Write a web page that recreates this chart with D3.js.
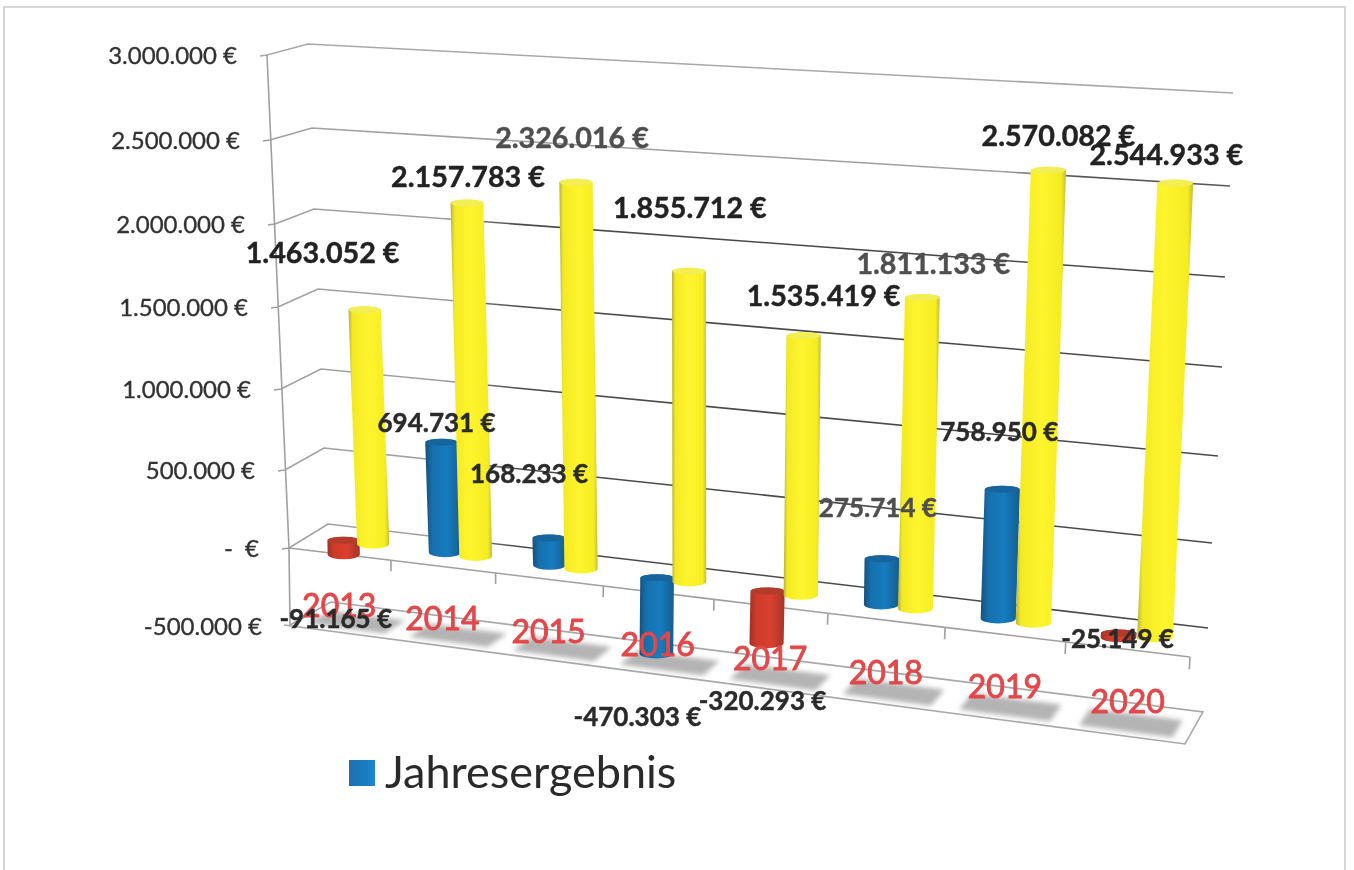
<!DOCTYPE html>
<html>
<head>
<meta charset="utf-8">
<title>Jahresergebnis</title>
<style type="text/css">
html, body { margin: 0; padding: 0; background: #fff; overflow: hidden; }
text { font-family: Lato, "Open Sans", sans-serif; white-space: pre; }
.tick-label { font-size: 24px; fill: #333; stroke: #333; stroke-width: 0.35; text-anchor: end; }
.data-label { font-weight: 700; text-anchor: middle; stroke-width: 0.45; }
.cat-label { font-size: 32px; fill: #e2474a; stroke: #e2474a; stroke-width: 0.9; text-anchor: middle; }
</style>
<script src="https://cdn.jsdelivr.net/npm/d3@7"></script>
</head>
<body>
<script>
// values
var categories = ["2013", "2014", "2015", "2016", "2017", "2018", "2019", "2020"];
var jahresergebnis = [-91165, 694731, 168233, -470303, -320293, 275714, 758950, -25149];
var yellowSeries = [1463052, 2157783, 2326016, 1855712, 1535419, 1811133, 2570082, 2544933];
var axisTicks = [-500000, 0, 500000, 1000000, 1500000, 2000000, 2500000, 3000000];
var legendLabel = "Jahresergebnis";
var redYears = ["2013", "2017", "2020"];  // 2016 is negative too but stays blue in the original

// hand-dragged labels in the original, offset from the end of the bar
var blueLabelNudge = [[-8, 65], [-5, -19], [-20, -64], [-19, 63], [-4, 58], [-4, -51], [-3, -57], [-1, 2]];
var yellowLabelNudge = [[-42, -57], [1, -26], [-4, -44], [1, -63], [20, -40], [11, -33], [10, -34], [-9, -28]];
var fadedYellow = ["2015", "2018"];
var fadedBlue = ["2018"];

var width = 1354, height = 870;
var svg = d3.select("body").append("svg").attr("width", width).attr("height", height);
var defs = svg.append("defs");

// the four upright edges of the 3d box: value -> [x, y]
var frontLeft = d3.scaleLinear().domain(axisTicks).range([[290, 625], [289, 548], [285, 470], [281, 389], [278, 307], [275, 224], [270, 140], [267, 55]]);
var backLeft = d3.scaleLinear().domain(axisTicks).range([[331, 602], [328, 524], [324, 448], [321, 369], [318, 289], [314, 209], [312, 128], [308, 44]]);
var frontRight = d3.scaleLinear().domain(axisTicks).range([[1185, 744], [1190, 657], [1194, 569], [1199, 479], [1203, 388], [1208, 296], [1212, 203], [1216, 108]]);
var backRight = d3.scaleLinear().domain(axisTicks).range([[1203, 712], [1208, 628], [1212, 543], [1218, 456], [1222, 367], [1225, 277], [1230, 186], [1233, 93]]);

var k = 1.12;
function perspective(t) { return t / (t + k * (1 - t)); }
var catScale = d3.scaleLinear().domain([0, categories.length]).range([0, 1]);
var radius = d3.scaleLinear().domain([0, 1]).range([16, 18]);
var labelOffset = d3.scaleLinear().domain([0, categories.length - 1]).range([0.29, 0.46]);

function mix(a, b, t) { return [a[0] + (b[0] - a[0]) * t, a[1] + (b[1] - a[1]) * t]; }

function project(i, v, depth) {
  var p = perspective(catScale(i));
  var left = mix(frontLeft(v), backLeft(v), depth);
  var right = mix(frontRight(v), backRight(v), depth);
  return mix(left, right, p);
}

var line = d3.line();
var euro = d3.formatLocale({ decimal: ",", thousands: ".", grouping: [3], currency: ["", ""], minus: "-" }).format(",.0f");
function money(v) { return v === 0 ? "-  \u20ac" : euro(v) + " \u20ac"; }

function hGradient(id, stops) {
  var g = defs.append("linearGradient").attr("id", id);
  stops.forEach(function(s) { g.append("stop").attr("offset", s[0]).attr("stop-color", s[1]); });
}
hGradient("blueBody", [[0, "#14517f"], [0.2, "#1670ad"], [0.6, "#187cbf"], [1, "#125c8e"]]);
hGradient("redBody", [[0, "#9c3325"], [0.2, "#cf3a2a"], [0.6, "#d9402e"], [1, "#a5352a"]]);
hGradient("yellowBody", [[0, "#b8b13a"], [0.1, "#f3ea25"], [0.5, "#fff52e"], [0.9, "#f5ec22"], [1, "#c4bc3a"]]);
hGradient("legendBox", [[0, "#1b6fae"], [1, "#1f86cf"]]);
defs.append("filter").attr("id", "soft").append("feGaussianBlur").attr("stdDeviation", 2.5);
defs.append("filter").attr("id", "scan").append("feGaussianBlur").attr("stdDeviation", 0.4);
var lateDark = defs.append("linearGradient").attr("id", "lateDark").attr("gradientUnits", "userSpaceOnUse")
  .attr("x1", 1000).attr("x2", 1080).attr("y1", 0).attr("y2", 0);
lateDark.append("stop").attr("offset", 0).attr("stop-color", "#a0a0a0");
lateDark.append("stop").attr("offset", 1).attr("stop-color", "#555");
var earlyDark = defs.append("linearGradient").attr("id", "earlyDark").attr("gradientUnits", "userSpaceOnUse")
  .attr("x1", 440).attr("x2", 520).attr("y1", 0).attr("y2", 0);
earlyDark.append("stop").attr("offset", 0).attr("stop-color", "#a0a0a0");
earlyDark.append("stop").attr("offset", 1).attr("stop-color", "#4a4a4a");

// page frame
svg.append("rect").attr("x", 4).attr("y", 7).attr("width", 1341).attr("height", 880)
  .attr("fill", "#fff").attr("stroke", "#d6d6d6").attr("stroke-width", 2);

var chart = svg.append("g").attr("filter", "url(#scan)");

// walls: left stub, side wall, back wall for each tick
var n = categories.length;
axisTicks.slice(1).forEach(function(t) {
  var stroke = t === 3000000 ? "#a8a8a8" : t === 2500000 ? "url(#lateDark)" : "url(#earlyDark)";
  var fl = frontLeft(t), bl = backLeft(t), br = backRight(t);
  chart.append("path")
    .attr("d", line([[fl[0] - 7, fl[1] + 1], fl, bl, br]))
    .attr("fill", "none").attr("stroke", stroke).attr("stroke-width", 1.6);
});

// left axis
chart.append("path").attr("d", line([frontLeft(3000000), frontLeft(0), frontLeft(-500000)]))
  .attr("fill", "none").attr("stroke", "#a0a0a0").attr("stroke-width", 1.6);

// plate at the zero level
var zeroFront = d3.range(n + 1).map(function(i) { return project(i, 0, 0); });
chart.append("path").attr("d", line(zeroFront)).attr("fill", "none").attr("stroke", "#a0a0a0").attr("stroke-width", 1.6);
d3.range(1, n + 1).forEach(function(i) {
  chart.append("path").attr("d", line([project(i, 0, 0), project(i, -70000, 0)]))
    .attr("fill", "none").attr("stroke", "#a0a0a0").attr("stroke-width", 1.6);
});

// plate at the bottom level
var bottom = axisTicks[0];
chart.append("path")
  .attr("d", line([[frontLeft(bottom)[0] - 6, frontLeft(bottom)[1]], frontRight(bottom), backRight(bottom), backLeft(bottom), frontLeft(bottom)]))
  .attr("fill", "none").attr("stroke", "#a8a8a8").attr("stroke-width", 1.6);

// grey shadows under the year labels
categories.forEach(function(c, i) {
  var pts = [project(i + 0.12, bottom, 0.14), project(i + 0.88, bottom, 0.14), project(i + 0.88, bottom, 0.68), project(i + 0.12, bottom, 0.68)];
  chart.append("path").attr("d", line(pts) + "Z").attr("fill", "#b4b4b4").attr("filter", "url(#soft)");
});

function cylinder(i, value, offset, fillId, topColor) {
  var hi = Math.max(value, 0), lo = Math.min(value, 0);
  var b = project(i + offset, lo, 0.5), t = project(i + offset, hi, 0.5);
  var r = radius(catScale(i + offset));
  var ryTop = 3.5, ryBase = 5;
  var d = "M" + (t[0] - r) + "," + t[1] + "L" + (b[0] - r) + "," + b[1] +
    "A" + r + "," + ryBase + " 0 0 0 " + (b[0] + r) + "," + b[1] +
    "L" + (t[0] + r) + "," + t[1] +
    "A" + r + "," + ryTop + " 0 0 0 " + (t[0] - r) + "," + t[1] + "Z";
  var g = chart.append("g");
  g.append("path").attr("d", d).attr("fill", "url(#" + fillId + ")");
  g.append("ellipse").attr("cx", t[0]).attr("cy", t[1]).attr("rx", r - 0.5).attr("ry", ryTop).attr("fill", topColor);
}

var blueOffset = 0.35, yellowOffset = 0.645;
categories.forEach(function(c, i) {
  if (redYears.indexOf(c) >= 0) cylinder(i, jahresergebnis[i], blueOffset, "redBody", "#b23a2c");
  else cylinder(i, jahresergebnis[i], blueOffset, "blueBody", "#15659c");
});
categories.forEach(function(c, i) {
  cylinder(i, yellowSeries[i], yellowOffset, "yellowBody", "#f4ee55");
});

// axis labels
axisTicks.forEach(function(t) {
  var p = frontLeft(t);
  chart.append("text").attr("class", "tick-label")
    .attr("x", p[0] - (t < 0 ? 28 : 30)).attr("y", p[1] + (t < 0 ? 2 : 1)).attr("dy", "0.35em").text(money(t));
});

// year labels
categories.forEach(function(c, i) {
  chart.append("text").attr("class", "cat-label")
    .attr("x", project(i + labelOffset(i), bottom, 0.5)[0])
    .attr("y", project(i + 0.33, bottom, 1)[1])
    .attr("dy", "0.35em").text(c);
});

// data labels
categories.forEach(function(c, i) {
  var p = project(i + yellowOffset, yellowSeries[i], 0.5);
  var color = fadedYellow.indexOf(c) >= 0 ? "#4f4f4f" : "#222";
  chart.append("text").attr("class", "data-label")
    .attr("x", p[0] + yellowLabelNudge[i][0]).attr("y", p[1] + yellowLabelNudge[i][1]).attr("dy", "0.35em")
    .attr("font-size", 28.7).attr("fill", color).attr("stroke", color)
    .text(money(yellowSeries[i]));
});
categories.forEach(function(c, i) {
  var p = project(i + blueOffset, jahresergebnis[i], 0.5);
  var color = fadedBlue.indexOf(c) >= 0 ? "#4f4f4f" : "#2b2b2b";
  chart.append("text").attr("class", "data-label")
    .attr("x", p[0] + blueLabelNudge[i][0]).attr("y", p[1] + blueLabelNudge[i][1]).attr("dy", "0.35em")
    .attr("font-size", 26).attr("fill", color).attr("stroke", color)
    .text(money(jahresergebnis[i]));
});

// legend
chart.append("rect").attr("x", 349).attr("y", 760).attr("width", 26).attr("height", 26).attr("fill", "url(#legendBox)");
chart.append("text").attr("x", 385).attr("y", 788).attr("font-size", 45).attr("fill", "#2b2b2b").text(legendLabel);
</script>
</body>
</html>
